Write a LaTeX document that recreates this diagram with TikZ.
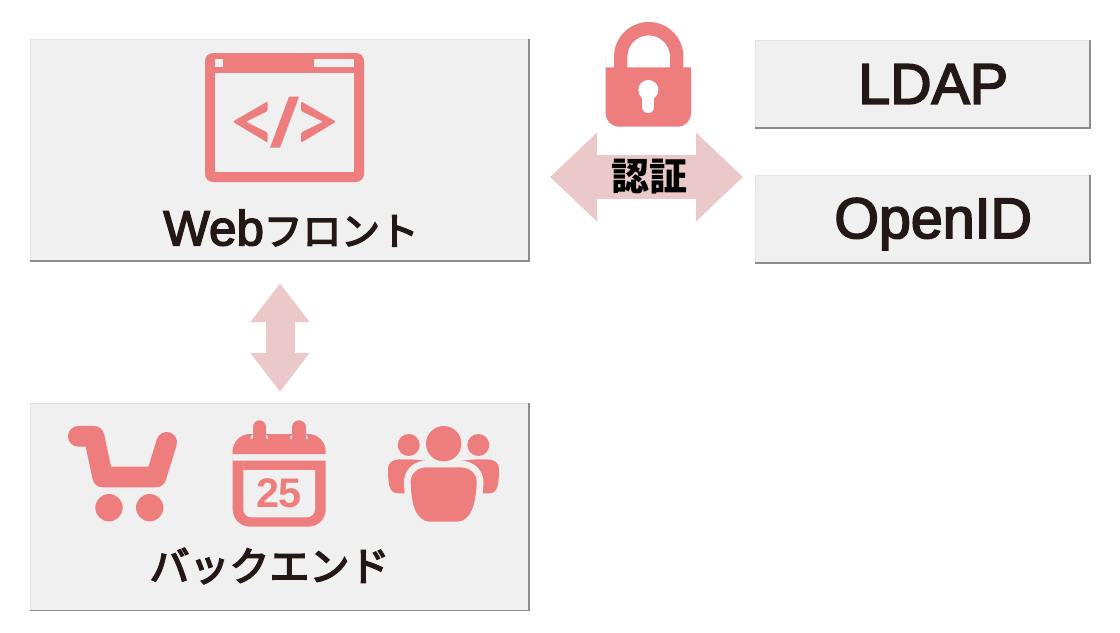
\documentclass[tikz,border=0pt]{standalone}
\usepackage{fontspec}
\setmainfont{Liberation Sans}
\newfontfamily\latinmedium{Liberation Sans}[FakeBold=3]
\newfontfamily\jpmedium{Noto Sans CJK JP}[FakeBold=4]
\newfontfamily\jpfont{Noto Sans CJK JP}
\usetikzlibrary{arrows.meta}
\definecolor{iconpink}{HTML}{EE7E7E}
\definecolor{arrowpink}{HTML}{EBC9CB}
\definecolor{panelgray}{HTML}{F0F0F0}
\definecolor{inkblack}{HTML}{231815}
\tikzstyle{panel} = [rectangle,
draw=black!10,
line width=0.3pt,
fill=panelgray]
\tikzstyle{paneledge} = [draw=black!45, line width=1.1pt, line join=miter]
\tikzstyle{biglabel} = [text=inkblack, inner sep=0pt]
\tikzstyle{icon} = [fill=iconpink]
\tikzstyle{hole} = [fill=panelgray]
\tikzstyle{fatarrow} = [draw=arrowpink, line width=21.75pt]

\begin{document}
\begin{tikzpicture}[x=0.75pt, y=-0.75pt, node distance=100pt]
\useasboundingbox (0,0) rectangle (1120,632);

\node (web) [panel, minimum width=374.25pt, minimum height=166.5pt] at (279.5,150) {};
\node (back) [panel, minimum width=374.25pt, minimum height=155.25pt, below of=web, yshift=-167.4pt] {};
\node (ldap) [panel, minimum width=251.25pt, minimum height=66pt, right of=web, xshift=382.25pt, yshift=49.5pt] {};
\node (openid) [panel, minimum width=251.25pt, minimum height=66pt, below of=ldap, yshift=-1.25pt] {};
\foreach \panelname in {web, back, ldap, openid} {
  \draw [paneledge] (\panelname.south west) -- (\panelname.south east) -- (\panelname.north east);
}

\node (weblabel) [biglabel, below of=web, xshift=8.6pt, yshift=41.5pt] {\latinmedium\fontsize{37}{37}\selectfont Web\jpmedium\fontsize{29}{29}\selectfont フロント};
\node (backlabel) [biglabel, below of=back, xshift=-7.5pt, yshift=55.4pt] {\jpmedium\fontsize{30}{30}\selectfont バックエンド};
\node (ldaplabel) [biglabel, right of=ldap, xshift=-92pt] {\latinmedium\fontsize{43}{43}\selectfont LDAP};
\node (openidlabel) [biglabel, right of=openid, xshift=-92pt, yshift=-3.75pt] {\latinmedium\fontsize{43}{43}\selectfont OpenID};

\coordinate (authleft) at (550,177);
\coordinate (authright) at (743,177);
\draw [fatarrow, line width=33pt, {Triangle[length=35.25pt, width=64.5pt]}-{Triangle[length=35.25pt, width=64.5pt]}]
  (authleft) -- node (auth) [inner sep=0pt, text=black, xshift=2.6pt] {\jpfont\bfseries\fontsize{28.5}{28.5}\selectfont 認証} (authright);
\draw [fatarrow, shorten <=16.5pt, shorten >=8.25pt, {Triangle[length=29.25pt, width=42.5pt]}-{Triangle[length=29.25pt, width=42.5pt]}]
  (web.south -| 280,0) -- (back.north -| 280,0);

% browser window
\fill [icon, rounded corners=6pt] (205,53) rectangle (364,182);
\fill [hole] (215,73) rectangle (354,172);
\fill [hole] (215,59) rectangle (223,67);
\fill [hole] (314,59) rectangle (354,67);
\fill [icon, rounded corners=1pt] (267.7,101.3) -- (232.7,121.7) -- (267.7,142.7) -- (267.7,132.7) -- (246,121.7) -- (267.7,111) -- cycle;
\fill [icon, rounded corners=1pt] (301,101.3) -- (336,121.7) -- (301,142.7) -- (301,132.7) -- (323,121.7) -- (301,111) -- cycle;
\fill [icon] (289,96.7) -- (299,96.7) -- (280,147.7) -- (270,147.7) -- cycle;

% lock
\fill [icon] (614,68) -- (614,56.7) arc [start angle=180, end angle=360, radius=34.7] -- (683.4,68) -- (670,68) -- (670,56.7) arc [start angle=360, end angle=180, radius=21.3] -- (627.4,68) -- cycle;
\fill [icon, rounded corners=10pt] (605.7,67.3) [sharp corners] -- (691,67.3) [rounded corners=10pt] -- (691,126.7) -- (605.7,126.7) -- (605.7,67.3) [sharp corners] -- cycle;
\fill [white] (648.3,90) circle [radius=10];
\draw [white, line width=9pt, line cap=round] (648.3,92) -- (648.3,107);

% cart
\draw [iconpink, line width=15.5pt, line cap=round, line join=round] (78.3,436.3) -- (94,436.3) -- (102.7,477) -- (156,477) -- (166.7,442.3);
\fill [icon] (109,507.7) circle [radius=13.7];
\fill [icon] (149.7,507.7) circle [radius=13.7];

% calendar
\fill [icon] (232.7,454) [rounded corners=13pt] -- (232.7,434) -- (325.7,434) [sharp corners] -- (325.7,454) -- cycle;
\fill [icon, rounded corners=13pt] (232.7,460.7) [sharp corners] -- (325.7,460.7) [rounded corners=13pt] -- (325.7,526.7) -- (232.7,526.7) -- (232.7,460.7) [sharp corners] -- cycle;
\fill [hole, rounded corners=6pt] (243.3,470) [sharp corners] -- (315,470) [rounded corners=6pt] -- (315,517.3) -- (243.3,517.3) -- (243.3,470) [sharp corners] -- cycle;
\foreach \ringx in {259.3, 299} {
  \draw [panelgray, line width=1.2pt] (\ringx-8,439) arc [start angle=180, end angle=0, x radius=8, y radius=-6];
  \draw [iconpink, line width=10pt, line cap=round] (\ringx,427) -- (\ringx,437);
}
\node (caldate) [inner sep=0pt, text=iconpink] at (279,493) {\fontsize{31}{31}\selectfont\bfseries 25};

% people
\fill [icon] (408.7,445) circle [radius=11];
\fill [icon] (478.3,445) circle [radius=11];
\fill [icon] (426.7,461) .. controls (415,459.3) and (410,459.3) .. (401.7,459.3) .. controls (392,459.3) and (388,463) .. (388,468.3) .. controls (388,478) and (388.5,484) .. (390,488) .. controls (391.5,491.5) and (394,493.3) .. (398.3,493.3) -- (426.7,493.3) -- cycle;
\fill [icon] (460.3,461) .. controls (472,459.3) and (477,459.3) .. (485.3,459.3) .. controls (495,459.3) and (499,463) .. (499,468.3) .. controls (499,478) and (498.5,484) .. (497,488) .. controls (495.5,491.5) and (493,493.3) .. (488.7,493.3) -- (460.3,493.3) -- cycle;
\path [draw=panelgray, line width=10pt, line join=round] (427,467.3) -- (460,467.3) .. controls (470,467.3) and (476.7,474) .. (476.7,481.7) .. controls (476.7,490) and (475,501) .. (473,507) .. controls (470,516) and (464,521.7) .. (457,521.7) -- (430,521.7) .. controls (423,521.7) and (417,516) .. (414,507) .. controls (412,501) and (410.7,490) .. (410.7,481.7) .. controls (410.7,474) and (417,467.3) .. (427,467.3) -- cycle;
\fill [icon] (427,467.3) -- (460,467.3) .. controls (470,467.3) and (476.7,474) .. (476.7,481.7) .. controls (476.7,490) and (475,501) .. (473,507) .. controls (470,516) and (464,521.7) .. (457,521.7) -- (430,521.7) .. controls (423,521.7) and (417,516) .. (414,507) .. controls (412,501) and (410.7,490) .. (410.7,481.7) .. controls (410.7,474) and (417,467.3) .. (427,467.3) -- cycle;
\fill [icon] (443.7,443.7) circle [radius=17.7];
\end{tikzpicture}
\end{document}
